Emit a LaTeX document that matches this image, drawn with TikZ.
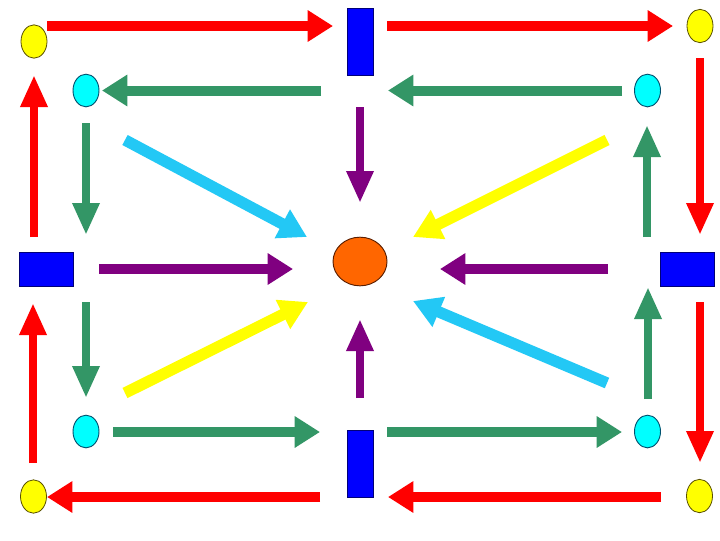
\documentclass[tikz,border=0pt]{standalone}
\usetikzlibrary{arrows.meta,shapes.geometric}
\definecolor{cred}{RGB}{255,0,0}
\definecolor{cgreen}{RGB}{51,150,102}
\definecolor{cpurple}{RGB}{128,0,128}
\definecolor{csky}{RGB}{35,200,245}
\definecolor{cyell}{RGB}{255,255,0}
\definecolor{cblue}{RGB}{0,0,255}
\definecolor{corange}{RGB}{255,102,0}
\definecolor{caqua}{RGB}{0,255,255}
\begin{document}
\begin{tikzpicture}[x=0.75pt,y=-0.75pt,
  yell/.style={ellipse,fill=cyell,draw={rgb,255:red,90;green,80;blue,0},line width=0.6pt,minimum width=19.5pt,minimum height=25pt,inner sep=0pt},
  aqua/.style={ellipse,fill=caqua,draw={rgb,255:red,0;green,80;blue,110},line width=0.7pt,minimum width=19.5pt,minimum height=24.5pt,inner sep=0pt},
  vrect/.style={rectangle,fill=cblue,draw={rgb,255:red,0;green,0;blue,120},line width=0.5pt,minimum width=19.5pt,minimum height=50.5pt,inner sep=0pt},
  hrect/.style={rectangle,fill=cblue,draw={rgb,255:red,0;green,0;blue,120},line width=0.5pt,minimum width=40.5pt,minimum height=25.5pt,inner sep=0pt},
  hub/.style={ellipse,fill=corange,draw={rgb,255:red,90;green,30;blue,0},line width=0.7pt,minimum width=40.5pt,minimum height=36.5pt,inner sep=0pt},
  harr/.style={line width=8pt,-{Triangle[length=19pt,width=22.5pt]}},
  varr/.style={line width=6pt,-{Triangle[length=24pt,width=19pt]}},
  darr/.style={line width=8.5pt,-{Triangle[length=21pt,width=23pt]}}]
\useasboundingbox[fill=white] (0,0) rectangle (720,540);
% nodes
\node[yell] (yTL) at (34,41.5) {};
\node[yell] (yTR) at (700,26) {};
\node[yell] (yBL) at (33.5,496.5) {};
\node[yell] (yBR) at (699.5,496) {};
\node[aqua] (cTL) at (86,90.5) {};
\node[aqua] (cTR) at (647.5,90.5) {};
\node[aqua] (cBL) at (86,431.5) {};
\node[aqua] (cBR) at (647.5,431.5) {};
\node[vrect] (bT) at (360,42) {};
\node[vrect] (bB) at (360,463.5) {};
\node[hrect] (bL) at (46.5,269) {};
\node[hrect] (bR) at (687,269) {};
\node[hub] (O) at (360,261.5) {};
% red loop
\coordinate (r1a) at (47,26);   \coordinate (r1b) at (333,26);
\coordinate (r2a) at (387,26);  \coordinate (r2b) at (673,26);
\coordinate (r3a) at (700,58);  \coordinate (r3b) at (700,235);
\coordinate (r4a) at (700,302); \coordinate (r4b) at (700,463);
\coordinate (r5a) at (661,497); \coordinate (r5b) at (388,497);
\coordinate (r6a) at (320,497); \coordinate (r6b) at (47,497);
\coordinate (r7a) at (33,463);  \coordinate (r7b) at (33,303);
\coordinate (r8a) at (34,237);  \coordinate (r8b) at (34,75);
\draw[harr,cred] (r1a) -- (r1b);
\draw[harr,cred] (r2a) -- (r2b);
\draw[varr,cred] (r3a) -- (r3b);
\draw[varr,cred] (r4a) -- (r4b);
\draw[harr,cred] (r5a) -- (r5b);
\draw[harr,cred] (r6a) -- (r6b);
\draw[varr,cred] (r7a) -- (r7b);
\draw[varr,cred] (r8a) -- (r8b);
% green loop
\coordinate (g1a) at (321,90.5); \coordinate (g1b) at (102,90.5);
\coordinate (g2a) at (622,90.5); \coordinate (g2b) at (388,90.5);
\coordinate (g3a) at (86,123);   \coordinate (g3b) at (86,235);
\coordinate (g4a) at (86,302);   \coordinate (g4b) at (86,398);
\coordinate (g5a) at (113,432);  \coordinate (g5b) at (320,432);
\coordinate (g6a) at (387,432);  \coordinate (g6b) at (622,432);
\coordinate (g7a) at (648,399);  \coordinate (g7b) at (648,287);
\coordinate (g8a) at (647,237);  \coordinate (g8b) at (647,125);
\draw[harr,cgreen,line width=7.5pt] (g1a) -- (g1b);
\draw[harr,cgreen,line width=7.5pt] (g2a) -- (g2b);
\draw[varr,cgreen] (g3a) -- (g3b);
\draw[varr,cgreen] (g4a) -- (g4b);
\draw[harr,cgreen,line width=7.5pt] (g5a) -- (g5b);
\draw[harr,cgreen,line width=7.5pt] (g6a) -- (g6b);
\draw[varr,cgreen] (g7a) -- (g7b);
\draw[varr,cgreen] (g8a) -- (g8b);
% purple
\coordinate (p1a) at (360,107); \coordinate (p1b) at (360,203);
\coordinate (p2a) at (99,269);  \coordinate (p2b) at (293,269);
\coordinate (p3a) at (608,269); \coordinate (p3b) at (440,269);
\coordinate (p4a) at (360,398); \coordinate (p4b) at (360,319);
\draw[varr,cpurple] (p1a) -- (p1b);
\draw[harr,cpurple,line width=7.5pt] (p2a) -- (p2b);
\draw[harr,cpurple,line width=7.5pt] (p3a) -- (p3b);
\draw[varr,cpurple] (p4a) -- (p4b);
% diagonals
\coordinate (d1a) at (125,140); \coordinate (d1b) at (307,237);
\coordinate (d2a) at (607,383); \coordinate (d2b) at (413,301);
\coordinate (d3a) at (607,140); \coordinate (d3b) at (413,237);
\coordinate (d4a) at (125,393); \coordinate (d4b) at (308,302);
\draw[darr,csky] (d1a) -- (d1b);
\draw[darr,csky] (d2a) -- (d2b);
\draw[darr,cyell] (d3a) -- (d3b);
\draw[darr,cyell] (d4a) -- (d4b);
\end{tikzpicture}
\end{document}
